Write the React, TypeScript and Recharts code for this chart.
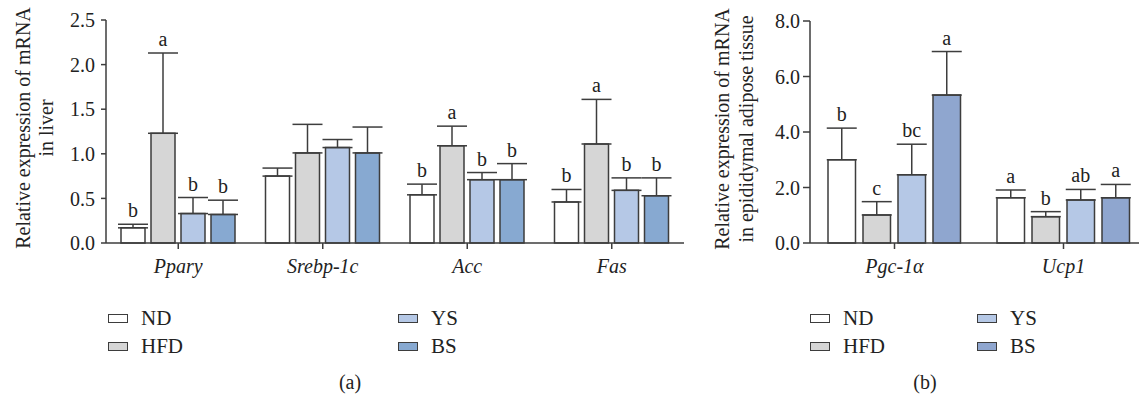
import React from 'react';
import { BarChart, Bar, XAxis, YAxis, ErrorBar, LabelList } from 'recharts';

// panel (a): liver
const genesA = ['Ppary', 'Srebp-1c', 'Acc', 'Fas'];
const ndA = [0.17, 0.75, 0.54, 0.46];
const ndErrA = [0.04, 0.09, 0.12, 0.14];
const hfdA = [1.23, 1.01, 1.09, 1.11];
const hfdErrA = [0.9, 0.32, 0.22, 0.5];
const ysA = [0.33, 1.07, 0.71, 0.59];
const ysErrA = [0.18, 0.09, 0.08, 0.14];
const bsA = [0.32, 1.01, 0.71, 0.53];
const bsErrA = [0.16, 0.29, 0.18, 0.2];
const ndLetA = ['b', '', 'b', 'b'];
const hfdLetA = ['a', '', 'a', 'a'];
const ysLetA = ['b', '', 'b', 'b'];
const bsLetA = ['b', '', 'b', 'b'];
const ticksA = [0, 0.5, 1, 1.5, 2, 2.5];

// panel (b): epididymal adipose tissue
const genesB = ['Pgc-1α', 'Ucp1'];
const ndB = [3.0, 1.63];
const ndErrB = [1.14, 0.28];
const hfdB = [1.01, 0.95];
const hfdErrB = [0.48, 0.18];
const ysB = [2.46, 1.55];
const ysErrB = [1.1, 0.38];
const bsB = [5.33, 1.63];
const bsErrB = [1.57, 0.48];
const ndLetB = ['b', 'a'];
const hfdLetB = ['c', 'b'];
const ysLetB = ['bc', 'ab'];
const bsLetB = ['a', 'a'];
const ticksB = [0, 2, 4, 6, 8];

const FONT = 'Liberation Serif, serif';
const INK = '#3d3d3d';
const C_ND = '#ffffff';
const C_HFD = '#d6d6d6';
const C_YS = '#b5c8e6';
const C_BS_A = '#87a9d1';
const C_BS_B = '#8fa6cf';

function buildRows(genes: string[], series: Record<string, number[]>, errs: Record<string, number[]>, lets: Record<string, string[]>) {
  return genes.map((g, i) => {
    const row: any = { gene: g };
    Object.keys(series).forEach(k => {
      row[k] = series[k][i];
      row[k + 'Err'] = [0, errs[k][i]];
      row[k + 'Let'] = lets[k][i];
    });
    return row;
  });
}

const dataA = buildRows(
  genesA,
  { nd: ndA, hfd: hfdA, ys: ysA, bs: bsA },
  { nd: ndErrA, hfd: hfdErrA, ys: ysErrA, bs: bsErrA },
  { nd: ndLetA, hfd: hfdLetA, ys: ysLetA, bs: bsLetA }
);
const dataB = buildRows(
  genesB,
  { nd: ndB, hfd: hfdB, ys: ysB, bs: bsB },
  { nd: ndErrB, hfd: hfdErrB, ys: ysErrB, bs: bsErrB },
  { nd: ndLetB, hfd: hfdLetB, ys: ysLetB, bs: bsLetB }
);

// letter sits above the error bar cap
const letter = (vals: number[], errs: number[]) => (props: any) => {
  const vb = props.viewBox ?? props;
  const x = vb.x ?? props.x;
  const y = vb.y ?? props.y;
  const w = vb.width ?? props.width;
  const h = Math.abs(vb.height ?? props.height);
  const i = props.index;
  if (!props.value) return null;
  const pxPerUnit = h / vals[i];
  const top = y - errs[i] * pxPerUnit;
  return (
    <text x={x + w / 2} y={top - 7} textAnchor="middle" fontSize={20} style={{ fontFamily: FONT }} fill="#222">
      {props.value}
    </text>
  );
};

const yTitle = (lines: string[], x1: number, gap: number, cy: number) => () => (
  <g>
    {lines.map((t, i) => (
      <text key={i} x={x1 + i * gap} y={cy} transform={`rotate(-90, ${x1 + i * gap}, ${cy})`}
        textAnchor="middle" fontSize={20} style={{ fontFamily: FONT }} fill="#222">{t}</text>
    ))}
  </g>
);

function series(vals: Record<string, number[]>, errs: Record<string, number[]>, bsColor: string) {
  const defs = [
    { key: 'nd', fill: C_ND },
    { key: 'hfd', fill: C_HFD },
    { key: 'ys', fill: C_YS },
    { key: 'bs', fill: bsColor },
  ];
  return defs.map(d => (
    <Bar key={d.key} dataKey={d.key} fill={d.fill} stroke={INK} strokeWidth={1.5} isAnimationActive={false}>
      <ErrorBar dataKey={d.key + 'Err'} width={15} stroke={INK} strokeWidth={1.5} direction="y" />
      <LabelList dataKey={d.key + 'Let'} content={letter(vals[d.key], errs[d.key])} />
    </Bar>
  ));
}

const Legend2 = ({ left, colGap, bs }: { left: number; colGap: number; bs: string }) => {
  const items = [
    { n: 'ND', c: C_ND, col: 0, row: 0 },
    { n: 'HFD', c: C_HFD, col: 0, row: 1 },
    { n: 'YS', c: C_YS, col: 1, row: 0 },
    { n: 'BS', c: bs, col: 1, row: 1 },
  ];
  return (
    <>
      {items.map(it => (
        <div key={it.n} style={{
          position: 'absolute', left: left + it.col * colGap, top: 306 + it.row * 28, height: 24,
          display: 'flex', alignItems: 'center', fontFamily: FONT, fontSize: 21, color: '#222'
        }}>
          <div style={{ width: 20, height: 9, boxSizing: 'border-box', border: `1.5px solid ${INK}`, background: it.c, marginRight: 13 }} />
          <span>{it.n}</span>
        </div>
      ))}
    </>
  );
};

const tickStyle = { fill: '#222', fontSize: 20, style: { fontFamily: FONT } };

export default function App() {
  return (
    <div style={{ position: 'absolute', left: 0, top: 0, width: 1139, height: 396, overflow: 'hidden', background: '#fff', fontFamily: FONT }}>
      <div style={{ position: 'absolute', left: 0, top: 0 }}>
        <BarChart width={700} height={290} data={dataA} margin={{ top: 20, right: 16, left: 0, bottom: 0 }}
          barSize={24} barGap={6} style={{ fontFamily: FONT }}>
          <XAxis dataKey="gene" height={47} stroke={INK} strokeWidth={1.5} tickSize={6} tickMargin={10}
            tick={{ ...tickStyle, fontStyle: 'italic' }} />
          <YAxis width={106} domain={[0, 2.5]} ticks={ticksA} stroke={INK} strokeWidth={1.5} tickSize={5} tickMargin={6}
            tickFormatter={(v: number) => v.toFixed(1)} tick={tickStyle} interval={0}
            label={{ content: yTitle(['Relative expression of mRNA', 'in liver'], 30, 23, 128) }} />
          {series({ nd: ndA, hfd: hfdA, ys: ysA, bs: bsA }, { nd: ndErrA, hfd: hfdErrA, ys: ysErrA, bs: bsErrA }, C_BS_A)}
        </BarChart>
      </div>
      <div style={{ position: 'absolute', left: 690, top: 0 }}>
        <BarChart width={458} height={290} data={dataB} margin={{ top: 21, right: 0, left: 0, bottom: 0 }}
          barSize={27.5} barGap={7.5} style={{ fontFamily: FONT }}>
          <XAxis dataKey="gene" height={47} stroke={INK} strokeWidth={1.5} tickSize={6} tickMargin={10}
            tick={{ ...tickStyle, fontStyle: 'italic' }} />
          <YAxis width={120} domain={[0, 8]} ticks={ticksB} stroke={INK} strokeWidth={1.5} tickSize={7} tickMargin={3}
            tickFormatter={(v: number) => v.toFixed(1)} tick={tickStyle} interval={0}
            label={{ content: yTitle(['Relative expression of mRNA', 'in epididymal adipose tissue'], 39, 24, 129) }} />
          {series({ nd: ndB, hfd: hfdB, ys: ysB, bs: bsB }, { nd: ndErrB, hfd: hfdErrB, ys: ysErrB, bs: bsErrB }, C_BS_B)}
        </BarChart>
      </div>
      <Legend2 left={108} colGap={290} bs={C_BS_A} />
      <Legend2 left={810} colGap={167} bs={C_BS_B} />
      <div style={{ position: 'absolute', left: 330, top: 371, width: 40, textAlign: 'center', fontSize: 20, color: '#222' }}>(a)</div>
      <div style={{ position: 'absolute', left: 905, top: 371, width: 40, textAlign: 'center', fontSize: 20, color: '#222' }}>(b)</div>
    </div>
  );
}
